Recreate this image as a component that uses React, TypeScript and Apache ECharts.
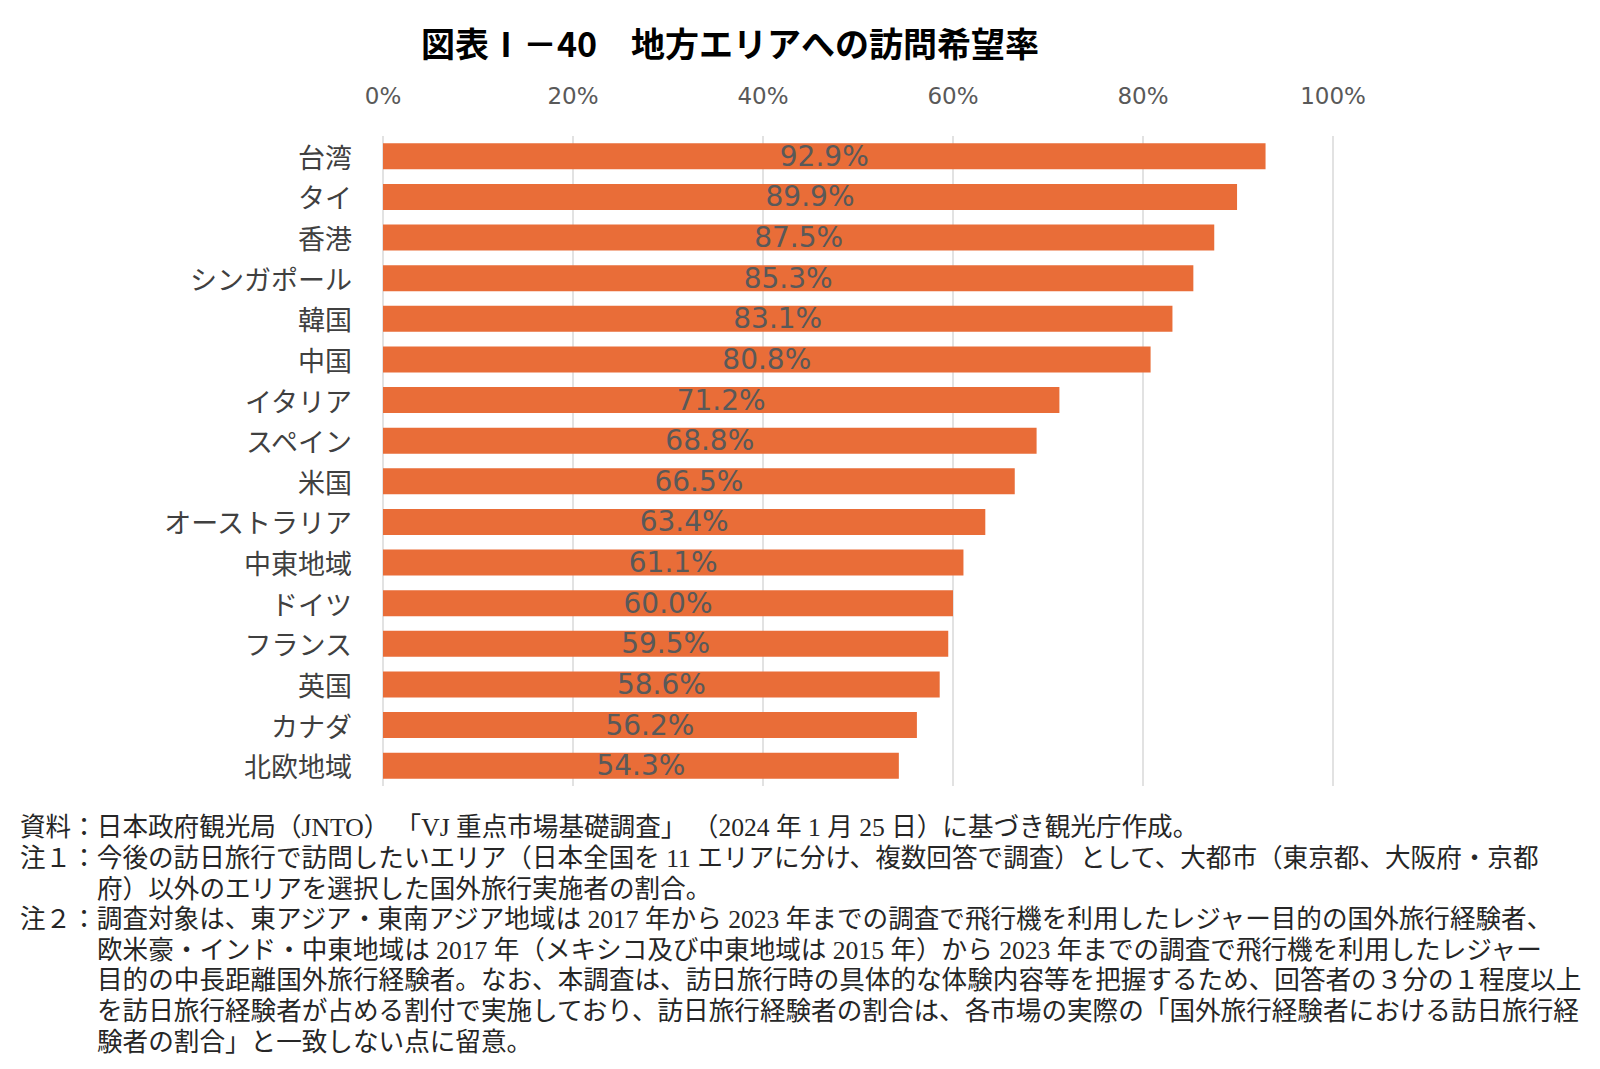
import React, { useEffect, useRef } from "react";
import * as echarts from "echarts";

const titleText = "図表Ⅰ－40　地方エリアへの訪問希望率";

const categories = [
  "台湾", "タイ", "香港", "シンガポール", "韓国", "中国", "イタリア", "スペイン",
  "米国", "オーストラリア", "中東地域", "ドイツ", "フランス", "英国", "カナダ", "北欧地域",
];

const values = [92.9, 89.9, 87.5, 85.3, 83.1, 80.8, 71.2, 68.8, 66.5, 63.4, 61.1, 60.0, 59.5, 58.6, 56.2, 54.3];

const noteLines = [
  "資料：日本政府観光局（JNTO） 「VJ 重点市場基礎調査」 （2024 年 1 月 25 日）に基づき観光庁作成。",
  "注１：今後の訪日旅行で訪問したいエリア（日本全国を 11 エリアに分け、複数回答で調査）として、大都市（東京都、大阪府・京都",
  "府）以外のエリアを選択した国外旅行実施者の割合。",
  "注２：調査対象は、東アジア・東南アジア地域は 2017 年から 2023 年までの調査で飛行機を利用したレジャー目的の国外旅行経験者、",
  "欧米豪・インド・中東地域は 2017 年（メキシコ及び中東地域は 2015 年）から 2023 年までの調査で飛行機を利用したレジャー",
  "目的の中長距離国外旅行経験者。なお、本調査は、訪日旅行時の具体的な体験内容等を把握するため、回答者の３分の１程度以上",
  "を訪日旅行経験者が占める割付で実施しており、訪日旅行経験者の割合は、各市場の実際の「国外旅行経験者における訪日旅行経",
  "験者の割合」と一致しない点に留意。",
];

export default function App() {
  const ref = useRef<HTMLDivElement>(null);

  useEffect(() => {
    if (!ref.current) return;
    const chart = echarts.init(ref.current, undefined, { renderer: "svg" });

    const noteFont = "'Liberation Serif', 'Noto Sans CJK JP', serif";
    const noteGraphics = noteLines.map((t, i) => {
      const isHead = t.startsWith("資料") || t.startsWith("注");
      return {
        type: "text",
        left: isHead ? 20 : 97,
        top: 815 + i * 30.6,
        style: {
          text: t,
          font: `25.6px ${noteFont}`,
          fill: "#262626",
        },
      };
    });

    chart.setOption({
      animation: false,
      backgroundColor: "#ffffff",
      grid: { left: 383, right: 267, top: 136, bottom: 283, containLabel: false },
      xAxis: {
        type: "value",
        position: "top",
        min: 0,
        max: 100,
        interval: 20,
        axisLine: { show: false },
        axisTick: { show: false },
        axisLabel: {
          formatter: "{value}%",
          color: "#595959",
          fontSize: 23,
          fontFamily: "'DejaVu Sans', sans-serif",
          margin: 29,
        },
        splitLine: { show: true, lineStyle: { color: "#d9d9d9", width: 1.5 } },
      },
      yAxis: {
        type: "category",
        data: categories,
        inverse: true,
        axisLine: { show: false },
        axisTick: { show: false },
        axisLabel: {
          color: "#404040",
          fontSize: 27,
          fontFamily: "'Noto Sans CJK JP', sans-serif",
          margin: 31,
        },
      },
      series: [
        {
          type: "bar",
          data: values,
          barCategoryGap: "36%",
          itemStyle: { color: "#E96D38" },
          label: {
            show: true,
            position: "inside",
            formatter: (p: any) => `${Number(p.value).toFixed(1)}%`,
            color: "#595959",
            fontSize: 28,
            fontFamily: "'DejaVu Sans', sans-serif",
          },
        },
      ],
      graphic: [
        {
          type: "text",
          x: 730,
          y: 42,
          style: {
            text: titleText,
            font: "bold 34px 'Noto Sans CJK JP', sans-serif",
            fill: "#000000",
            textAlign: "center",
            textVerticalAlign: "middle",
          },
        },
        ...noteGraphics,
      ],
    });

    return () => chart.dispose();
  }, []);

  return (
    <div
      ref={ref}
      style={{ position: "fixed", left: 0, top: 0, width: 1600, height: 1069, background: "#fff" }}
    />
  );
}
